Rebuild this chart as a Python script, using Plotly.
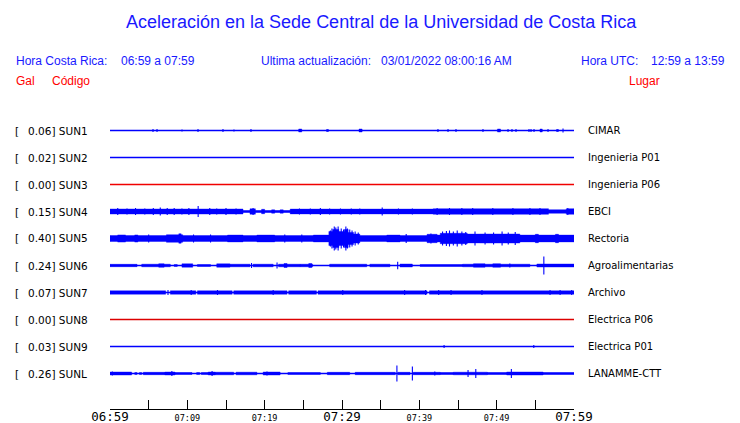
import plotly.graph_objects as go

# ---------------- data ----------------
CODES = ["SUN1", "SUN2", "SUN3", "SUN4", "SUN5", "SUN6", "SUN7", "SUN8", "SUN9", "SUNL"]
GAL = [0.06, 0.02, 0.00, 0.15, 0.40, 0.24, 0.07, 0.00, 0.03, 0.26]
PLACES = ["CIMAR", "Ingenieria P01", "Ingenieria P06", "EBCI", "Rectoria",
          "Agroalimentarias", "Archivo", "Electrica P06", "Electrica P01", "LANAMME-CTT"]

TICK_MIN = [0, 5, 10, 15, 20, 25, 30, 35, 40, 45, 50, 55, 60]
TICK_LABELS = ["06:59", "", "07:09", "", "07:19", "", "07:29", "", "07:39", "", "07:49", "", "07:59"]
BIG_LABELS = ["06:59", "07:29", "07:59"]

# envelope segments: (start minute, end minute, half amplitude in px)
SUN1_BANDS = [(24.4, 24.8, 1.5), (32.2, 32.6, 1.5), (50.1, 50.5, 1.5), (55.6, 55.9, 1.5)]
SUN1_SPIKES = [(5.56, 1.5), (6.08, 1.5), (9.31, 1), (11.38, 1.5), (14.61, 1.5), (16.03, 1),
               (18.23, 1.5), (28.06, 1.5), (28.19, 1.5), (42.41, 1.5), (43.71, 1.5), (44.74, 1.5),
               (48.23, 1.5), (51.47, 1.5), (51.98, 1.5), (52.5, 1.5), (54.18, 1.5), (54.44, 1.5),
               (54.83, 1.5), (56.64, 1.5), (57.8, 1.5), (57.93, 1.5), (58.58, 2)]
SUN2_BANDS, SUN2_SPIKES = [], []
SUN3_BANDS, SUN3_SPIKES = [], []
SUN4_BANDS = [(0, 17.2, 2.5), (17.2, 18.1, 0.9), (18.1, 18.8, 2.7), (18.8, 23.3, 1.0),
              (19.6, 20.0, 2.2), (20.9, 21.3, 1.7), (22.0, 22.4, 1.7), (23.3, 41.8, 2.4),
              (41.8, 56.7, 2.8), (56.7, 59.0, 1.8), (59.0, 60, 2.8)]
SUN4_SPIKES = [(1.0, 3.5), (2.2, 3), (3.3, 3.5), (4.5, 3), (5.6, 3.5), (6.5, 4), (7.4, 3.5),
               (8.3, 3.5), (9.3, 3), (10.2, 3.5), (11.4, 5.5), (12.9, 3.5), (13.8, 3), (15.0, 3.5),
               (16.3, 3), (18.5, 3.5), (24.5, 3), (25.9, 3), (27.2, 3.5), (28.4, 3), (29.8, 3),
               (31.2, 3), (32.3, 3), (35.2, 4), (37.3, 3), (39.1, 3), (42.3, 3.5), (43.9, 3.5),
               (45.5, 3.5), (46.9, 3.5), (49.5, 3.5), (52.1, 3.5), (54.3, 3.5), (55.6, 3.5), (59.2, 3.5)]
SUN5_BANDS = [(0, 28.3, 3.0), (1.0, 2.0, 3.6), (3.2, 3.6, 3.6), (7.3, 9.4, 3.8), (8.9, 9.2, 4.8),
              (15.2, 17.2, 3.4), (19.0, 21.3, 3.4), (26.3, 28.3, 3.4), (28.3, 28.8, 7), (28.8, 29.6, 9),
              (29.6, 30.3, 7), (30.3, 30.8, 9), (30.8, 31.5, 6), (31.5, 32.3, 4.5), (32.3, 41.0, 3.0),
              (35.8, 37.5, 3.4), (41.0, 42.3, 4.2), (42.3, 42.7, 3.4), (42.7, 46.2, 5.2), (46.2, 47.8, 4.4),
              (47.8, 53.0, 4.5), (53.0, 60, 3.4), (55.0, 55.4, 4.2), (57.6, 58.0, 4.2)]
SUN5_SPIKES = [(28.5, 8), (28.7, 10), (29.0, 12), (29.2, 11), (29.5, 12), (29.9, 10), (30.2, 9),
               (30.5, 12), (30.7, 10), (31.0, 9), (31.3, 8), (31.7, 7), (32.1, 6),
               (43.0, 7), (43.5, 7.5), (43.9, 8), (44.4, 7), (44.9, 8), (45.5, 7), (46.0, 6.5),
               (47.2, 7), (48.5, 6), (49.6, 6), (50.7, 7), (51.5, 6), (52.4, 6.5), (41.5, 5),
               (38.3, 4.5), (13.0, 4), (22.6, 4), (5.0, 4), (10.8, 4), (24.8, 4)]
SUN6_BANDS = [(0, 3.5, 1.2), (4.1, 7.8, 1.3), (6.3, 7.0, 1.7), (8.3, 8.7, 1.0), (9.3, 10.7, 1.7),
              (11.3, 13.0, 1.0), (13.8, 15.5, 1.7), (15.5, 18.1, 1.3), (18.5, 21.1, 1.3),
              (21.8, 24.6, 1.3), (22.5, 22.9, 2), (24.6, 26.2, 1.3), (25.7, 26.1, 2), (28.4, 33.2, 1.3),
              (33.6, 36.2, 1.3), (37.5, 39.1, 1.5), (40.1, 45.6, 1.0), (45.6, 51.7, 1.3),
              (47.0, 48.5, 1.7), (49.5, 50.5, 1.7), (51.7, 54.3, 1.3), (55.2, 60, 1.5)]
SUN6_SPIKES = [(18.3, 2.5), (21.6, 3), (37.2, 3.8), (51.7, 2), (56.1, 9)]
SUN7_BANDS = [(0, 7.2, 1.7), (7.8, 11.1, 1.7), (11.3, 15.8, 1.7), (16.0, 22.9, 1.7),
              (23.1, 26.7, 1.7), (26.9, 41.0, 1.7), (41.3, 60, 1.7)]
SUN7_SPIKES = [(7.5, 2.5), (10.5, 2.5), (13.9, 2.5), (21.1, 2.5), (30.1, 2.5), (38.1, 2.5),
               (40.8, 2.5), (42.5, 2.5), (44.1, 2.5), (48.1, 2.5), (56.9, 2.5), (58.2, 2.5), (59.7, 2.5)]
SUN8_BANDS, SUN8_SPIKES = [], []
SUN9_BANDS = []
SUN9_SPIKES = [(43.2, 1.5), (54.8, 1.5)]
SUNL_BANDS = [(0, 2.8, 1.5), (3.2, 3.5, 1), (3.8, 4.1, 1), (4.3, 7.1, 1.2), (7.1, 8.4, 1.5),
              (8.4, 10.6, 1.0), (11.2, 11.6, 1), (11.8, 12.7, 1), (12.7, 13.6, 1.5), (13.6, 16.0, 1.3),
              (16.3, 19.0, 1.3), (19.8, 22.0, 1.5), (23.0, 27.2, 1.0), (28.1, 31.0, 1.2),
              (31.7, 36.9, 1.2), (37.2, 38.8, 1.2), (39.2, 42.7, 1.2), (42.7, 44.4, 1.0),
              (44.4, 48.8, 1.3), (48.8, 51.3, 1.0), (51.3, 56.0, 1.5), (56.0, 60, 1.0)]
SUNL_SPIKES = [(0.3, 2), (8.0, 2.5), (13.2, 2.5), (20.3, 2), (37.1, 8), (39.1, 7), (42.0, 2),
               (46.3, 3.5), (47.3, 4.5), (51.9, 4.5)]

BANDS = [SUN1_BANDS, SUN2_BANDS, SUN3_BANDS, SUN4_BANDS, SUN5_BANDS,
         SUN6_BANDS, SUN7_BANDS, SUN8_BANDS, SUN9_BANDS, SUNL_BANDS]
SPIKES = [SUN1_SPIKES, SUN2_SPIKES, SUN3_SPIKES, SUN4_SPIKES, SUN5_SPIKES,
          SUN6_SPIKES, SUN7_SPIKES, SUN8_SPIKES, SUN9_SPIKES, SUNL_SPIKES]

# ---------------- styling / layout ----------------
BLUE = "rgb(0,0,255)"
RED = "rgb(240,0,0)"
RED_DARK = "rgb(220,0,0)"
TEXT_BLUE = "rgb(25,25,255)"
TEXT_RED = "rgb(255,0,0)"
TRACE_COLORS = [BLUE, BLUE, RED, BLUE, BLUE, BLUE, BLUE, RED_DARK, BLUE, BLUE]
BASE_WIDTH = [1.5, 1.3, 1.4, 1.5, 1.5, 1.5, 1.5, 1.3, 1.3, 1.5]

W, H = 740, 423
L, R, T, B = 110, 574, 100, 409      # plot area in pixels
FIRST, STEP = 30.5, 27               # first trace offset and spacing (px)

fig = go.Figure()

for i, code in enumerate(CODES):
    base = FIRST + STEP * i
    col = TRACE_COLORS[i]
    fig.add_trace(go.Scatter(x=[0, 60], y=[base, base], mode="lines",
                             line=dict(color=col, width=BASE_WIDTH[i]), hoverinfo="skip"))
    if BANDS[i]:
        bx, by = [], []
        for t0, t1, a in BANDS[i]:
            bx += [t0, t1, t1, t0, t0, None]
            by += [base - a, base - a, base + a, base + a, base - a, None]
        fig.add_trace(go.Scatter(x=bx, y=by, mode="lines", fill="toself", fillcolor=col,
                                 line=dict(color=col, width=0.4), hoverinfo="skip"))
    if SPIKES[i]:
        sx, sy = [], []
        for t, a in SPIKES[i]:
            sx += [t, t, None]
            sy += [base - a, base + a, None]
        fig.add_trace(go.Scatter(x=sx, y=sy, mode="lines",
                                 line=dict(color=col, width=1.1), hoverinfo="skip"))

ticktext = []
for lab in TICK_LABELS:
    if lab == "" or lab in BIG_LABELS:
        ticktext.append(lab)
    else:
        ticktext.append('<span style="font-size:8.5px">%s</span>' % lab)


def px_x(px):
    return (px - L) / (R - L)


def px_y(py):
    return (B - py) / (B - T)


annotations = []


def ann(px, py, text, size, color, family, xanchor="left"):
    annotations.append(dict(x=px_x(px), y=px_y(py), xref="paper", yref="paper", text=text,
                            showarrow=False, xanchor=xanchor, yanchor="middle",
                            font=dict(size=size, color=color, family=family), borderpad=0))


SANS = "Liberation Sans, Arial, sans-serif"
DJV = "DejaVu Sans, sans-serif"

ann(381, 22, "Aceleración en la Sede Central de la Universidad de Costa Rica", 18, TEXT_BLUE, SANS, "center")
ann(15, 61, "Hora Costa Rica:", 12, TEXT_BLUE, SANS)
ann(120, 61, "06:59 a 07:59", 12, TEXT_BLUE, SANS)
ann(260, 61, "Ultima actualización:", 12, TEXT_BLUE, SANS)
ann(380, 61, "03/01/2022 08:00:16 AM", 12, TEXT_BLUE, SANS)
ann(580, 61, "Hora UTC:", 12, TEXT_BLUE, SANS)
ann(650, 61, "12:59 a 13:59", 12, TEXT_BLUE, SANS)
ann(15, 81, "Gal", 12, TEXT_RED, SANS)
ann(51, 81, "Código", 12, TEXT_RED, SANS)
ann(628, 81, "Lugar", 12, TEXT_RED, SANS)

for i, code in enumerate(CODES):
    py = T + FIRST + STEP * i
    ann(14, py, "[", 10.5, "black", DJV)
    ann(27, py, "%.2f] %s" % (GAL[i], code), 10.5, "black", DJV)
    ann(587, py, PLACES[i], 10, "black", DJV)

fig.update_layout(
    width=W, height=H,
    margin=dict(l=L, r=W - R, t=T, b=H - B, pad=0),
    paper_bgcolor="white", plot_bgcolor="white",
    showlegend=False, hovermode=False,
    annotations=annotations,
    xaxis=dict(range=[0, 60], tickmode="array", tickvals=TICK_MIN, ticktext=ticktext,
               ticks="inside", ticklen=9, tickwidth=1, tickcolor="black",
               ticklabelstandoff=-4,
               showline=True, linecolor="black", linewidth=1, showgrid=False, zeroline=False,
               tickfont=dict(family="DejaVu Sans Mono, monospace", size=12.5, color="black"),
               fixedrange=True, automargin=False),
    yaxis=dict(range=[B - T, 0], visible=False, fixedrange=True, automargin=False),
)

fig.write_html("out.html", config={"displayModeBar": False},
               post_script="document.body.style.margin='0px';document.body.style.overflow='hidden';")
